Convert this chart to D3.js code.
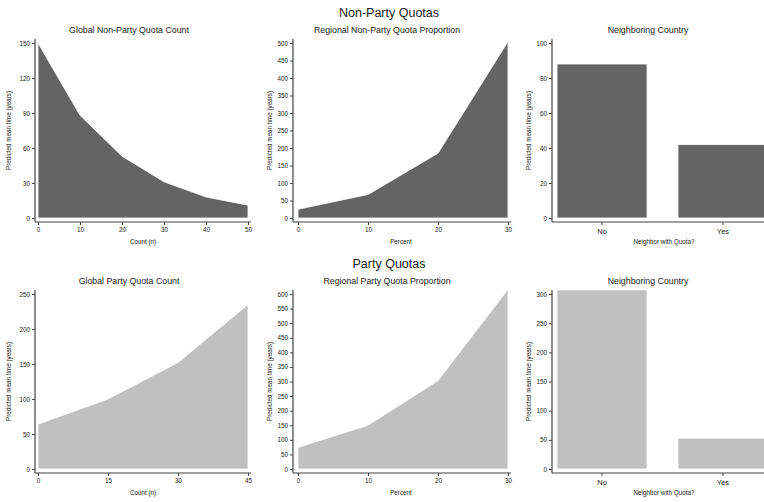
<!DOCTYPE html>
<html><head><meta charset="utf-8">
<script src="https://cdn.jsdelivr.net/npm/d3@7"></script>
<style>body{margin:0;background:#fff;overflow:hidden}svg{display:block;font-family:"Liberation Sans",Arial,sans-serif}</style>
</head><body><svg id="c" width="764" height="502"></svg>
<script>
// Data
const globalNonPartyCount = [0, 10, 20, 30, 40, 50];
const globalNonPartyTime  = [150, 88, 53, 31, 18, 11];
const regionalNonPartyPct = [0, 10, 20, 30];
const regionalNonPartyTime = [25, 67, 185, 504];
const neighborCats = ["No", "Yes"];
const neighborNonPartyTime = [88, 42];
const globalPartyCount = [0, 15, 30, 45];
const globalPartyTime  = [64, 100, 152, 235];
const regionalPartyPct = [0, 10, 20, 30];
const regionalPartyTime = [74, 150, 303, 616];
const neighborPartyTime = [307, 53];

const darkFill = "#646464", lightFill = "#c0c0c0";
const svg = d3.select("#c");
const txt = "#222";

const rows = [
  {title: "Non-Party Quotas", titleY: 17, top: 43, bottom: 218, axisY: 222, fill: darkFill,
   panels: [
    {type:"area", sub:"Global Non-Party Quota Count", x: globalNonPartyCount, y: globalNonPartyTime, xdom:[0,50], xticks:d3.range(0,51,10), ydom:[0,150], yticks:d3.range(0,151,30), xlab:"Count (n)"},
    {type:"area", sub:"Regional Non-Party Quota Proportion", x: regionalNonPartyPct, y: regionalNonPartyTime, xdom:[0,30], xticks:[0,10,20,30], ydom:[0,500], yticks:d3.range(0,501,50), xlab:"Percent"},
    {type:"bar", sub:"Neighboring Country", cats: neighborCats, y: neighborNonPartyTime, ydom:[0,100], yticks:d3.range(0,101,20), xlab:"Neighbor with Quota?"}
   ]},
  {title: "Party Quotas", titleY: 268, top: 294, bottom: 469, axisY: 473, fill: lightFill,
   panels: [
    {type:"area", sub:"Global Party Quota Count", x: globalPartyCount, y: globalPartyTime, xdom:[0,45], xticks:[0,15,30,45], ydom:[0,250], yticks:d3.range(0,251,50), xlab:"Count (n)"},
    {type:"area", sub:"Regional Party Quota Proportion", x: regionalPartyPct, y: regionalPartyTime, xdom:[0,30], xticks:[0,10,20,30], ydom:[0,600], yticks:d3.range(0,601,50), xlab:"Percent"},
    {type:"bar", sub:"Neighboring Country", cats: neighborCats, y: neighborPartyTime, ydom:[0,300], yticks:d3.range(0,301,50), xlab:"Neighbor with Quota?"}
   ]}
];

const panelW = 258;
rows.forEach(row => {
  svg.append("text").attr("x", 389).attr("y", row.titleY).attr("text-anchor","middle")
    .attr("font-size", 12.5).attr("fill", txt).text(row.title);
  row.panels.forEach((p, i) => {
    const left = i * panelW;
    const g = svg.append("g");
    const axX = left + 35 + (i===2?1:0);
    const y = d3.scaleLinear().domain(p.ydom).range([row.bottom, row.top]);
    g.append("text").attr("x", left + 129 + (i===2?3:0)).attr("y", row.top - 10).attr("text-anchor","middle")
      .attr("font-size", 8.8).attr("fill", txt).text(p.sub);
    g.append("text").attr("transform", `translate(${left + (i===2?15:i===1?14:11)},${(row.top+row.bottom)/2}) rotate(-90)`)
      .attr("text-anchor","middle").attr("font-size", 6.3).attr("fill", txt).text("Predicted mean time (years)");
    let xEnd;
    if (p.type === "area") {
      const x = d3.scaleLinear().domain(p.xdom).range([left + 38 + (i===1?2:0), left + 248 + (i===1?2:0)]);
      xEnd = x.range()[1] + 3;
      const data = p.x.map((v, k) => [v, p.y[k]]);
      const area = d3.area().x(d => x(d[0])).y0(y(0)).y1(d => y(d[1]));
      g.append("path").datum(data).attr("d", area).attr("fill", row.fill)
        .attr("stroke", "#fff").attr("stroke-width", 0.8);
      const xa = g.append("g").attr("transform", `translate(0,${row.axisY})`)
        .call(d3.axisBottom(x).tickValues(p.xticks).tickSize(3).tickPadding(3).tickFormat(d3.format("d")));
      styleAxis(xa);
      xa.select(".domain").attr("d", `M${axX},0H${xEnd}`);
    } else {
      const x = d3.scaleBand().domain(p.cats).range([557, 768]).paddingInner(0.256).paddingOuter(0);
      xEnd = 770;
      g.selectAll("rect").data(p.cats).join("rect")
        .attr("x", d => x(d)).attr("width", x.bandwidth())
        .attr("y", (d, k) => y(p.y[k])).attr("height", (d, k) => y(0) - y(p.y[k]))
        .attr("fill", row.fill).attr("stroke", "#fff").attr("stroke-width", 0.8);
      const xa = g.append("g").attr("transform", `translate(0,${row.axisY})`)
        .call(d3.axisBottom(x).tickSize(3).tickPadding(4));
      styleAxis(xa);
      xa.selectAll("text").attr("font-size", 7.5);
      xa.select(".domain").attr("d", `M${axX},0H${xEnd}`);
    }
    const ya = g.append("g").attr("transform", `translate(${axX},0)`)
      .call(d3.axisLeft(y).tickValues(p.yticks).tickSize(3).tickPadding(2).tickFormat(d3.format("d")));
    styleAxis(ya);
    ya.select(".domain").attr("d", `M0,${row.top-4}V${row.axisY}`);
    g.append("text").attr("x", i===2 ? 664 : left + 143).attr("y", row.axisY + 22).attr("text-anchor","middle")
      .attr("font-size", 6.3).attr("fill", txt).text(p.xlab);
  });
});

function styleAxis(a) {
  a.select(".domain").attr("stroke", "#444").attr("stroke-width", 1.2);
  a.selectAll(".tick line").attr("stroke", "#444").attr("stroke-width", 1);
  a.selectAll(".tick text").attr("font-size", 6.3).attr("fill", txt).attr("font-family", "Liberation Sans, Arial, sans-serif");
}
</script></body></html>
